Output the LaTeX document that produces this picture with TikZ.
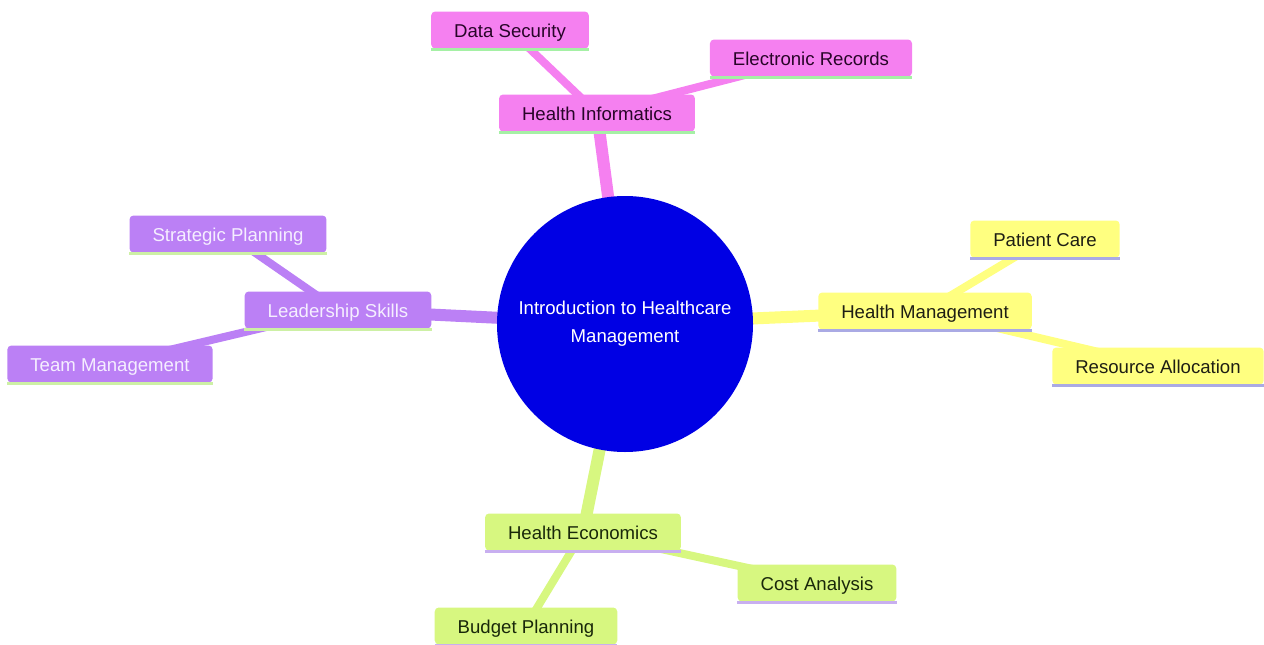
\documentclass[tikz,border=0pt]{standalone}
\usepackage{fontspec}
\setmainfont{Liberation Sans}
\usetikzlibrary{backgrounds}
\definecolor{rootblue}{RGB}{0,0,228}
\definecolor{pinkA}{RGB}{245,128,240}
\definecolor{purpA}{RGB}{187,128,245}
\definecolor{yellA}{RGB}{255,255,128}
\definecolor{grnA}{RGB}{215,247,128}
\definecolor{pinkLine}{RGB}{165,240,165}
\definecolor{purpLine}{RGB}{205,240,165}
\definecolor{yellLine}{RGB}{170,170,228}
\definecolor{grnLine}{RGB}{200,175,240}
\definecolor{pinkTxt}{RGB}{40,5,40}
\definecolor{purpTxt}{RGB}{245,238,255}
\definecolor{yellTxt}{RGB}{30,30,20}
\definecolor{grnTxt}{RGB}{25,40,10}
\begin{document}
\begin{tikzpicture}[x=1pt,y=-1pt,
  box/.style={rounded corners=4pt, minimum height=37pt, inner xsep=23pt, inner ysep=0pt,
    text height=16pt, text depth=2pt,
    font=\fontsize{18.6}{22}\selectfont},
  pbox/.style={box, fill=pinkA, text=pinkTxt},
  vbox/.style={box, fill=purpA, text=purpTxt},
  ybox/.style={box, fill=yellA, text=yellTxt},
  gbox/.style={box, fill=grnA, text=grnTxt},
  rootnode/.style={circle, fill=rootblue, text=white, minimum size=256pt, inner sep=0pt,
    align=center, font=\fontsize{18.6}{28}\selectfont},
  mainedge/.style={line width=12pt},
  leafedge/.style={line width=8pt},
  underline/.style={line width=3pt}
]
\useasboundingbox (0,0) rectangle (1264,645);

\node[rootnode] (root) at (625,324) {Introduction to Healthcare\\Management};

\node[pbox] (hi) at (597,113) {Health Informatics};
\node[pbox] (ds) at (510,30) {Data Security};
\node[pbox] (er) at (811,58) {Electronic Records};

\node[vbox] (ls) at (338,310) {Leadership Skills};
\node[vbox] (sp) at (228,234) {Strategic Planning};
\node[vbox] (tm) at (110,364) {Team Management};

\node[ybox] (hm) at (925,311) {Health Management};
\node[ybox] (pc) at (1045,239) {Patient Care};
\node[ybox] (ra) at (1158,366) {Resource Allocation};

\node[gbox] (he) at (583,532) {Health Economics};
\node[gbox] (ca) at (817,583) {Cost Analysis};
\node[gbox] (bp) at (526,626) {Budget Planning};

\begin{scope}[on background layer]
  \draw[mainedge, pinkA] (root.center) -- (hi.center);
  \draw[leafedge, pinkA] (hi.center) -- (ds.center);
  \draw[leafedge, pinkA] (hi.center) -- (er.center);
  \draw[mainedge, purpA] (root.center) -- (ls.center);
  \draw[leafedge, purpA] (ls.center) -- (sp.center);
  \draw[leafedge, purpA] (ls.center) -- (tm.center);
  \draw[mainedge, yellA] (root.center) -- (hm.center);
  \draw[leafedge, yellA] (hm.center) -- (pc.center);
  \draw[leafedge, yellA] (hm.center) -- (ra.center);
  \draw[mainedge, grnA] (root.center) -- (he.center);
  \draw[leafedge, grnA] (he.center) -- (ca.center);
  \draw[leafedge, grnA] (he.center) -- (bp.center);
\end{scope}

\foreach \n in {hi,ds,er}
  \draw[underline, pinkLine] ([yshift=-1pt]\n.south west) -- ([yshift=-1pt]\n.south east);
\foreach \n in {ls,sp,tm}
  \draw[underline, purpLine] ([yshift=-1pt]\n.south west) -- ([yshift=-1pt]\n.south east);
\foreach \n in {hm,pc,ra}
  \draw[underline, yellLine] ([yshift=-1pt]\n.south west) -- ([yshift=-1pt]\n.south east);
\foreach \n in {he,ca,bp}
  \draw[underline, grnLine] ([yshift=-1pt]\n.south west) -- ([yshift=-1pt]\n.south east);
\end{tikzpicture}
\end{document}
